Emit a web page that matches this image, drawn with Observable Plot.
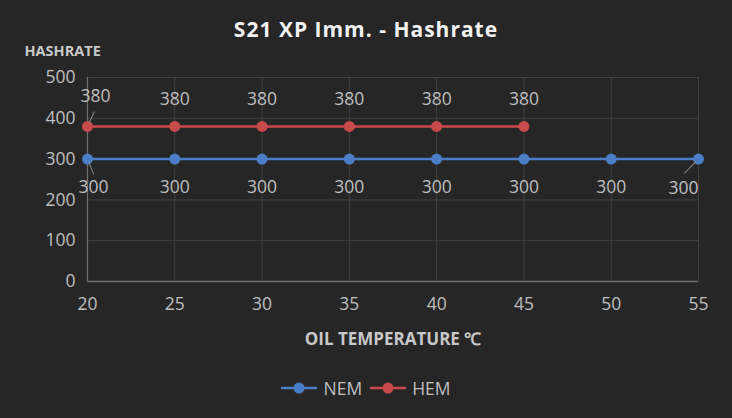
<!DOCTYPE html>
<html>
<head>
<meta charset="utf-8">
<script src="https://cdn.jsdelivr.net/npm/d3@7"></script>
<script src="https://cdn.jsdelivr.net/npm/@observablehq/plot@0.6"></script>
<style>
  html, body { margin: 0; padding: 0; background: #262626; }
  body { width: 732px; height: 418px; overflow: hidden; font-family: "Open Sans", sans-serif; }
  #title { height: 40px; line-height: 40px; padding-top: 9px; box-sizing: border-box; text-align: center; color: #f2f2f2; font-weight: bold; font-size: 21px; letter-spacing: 1px; }
  #legend { display: flex; justify-content: center; align-items: center; gap: 8px; color: #bfbfbf; font-size: 17.5px; margin-top: 16px; }
  .item { display: flex; align-items: center; gap: 6px; }
</style>
</head>
<body>
<div id="title">S21 XP Imm. - Hashrate</div>
<div id="chart"></div>
<div id="legend"></div>
<script>
const temps = [20, 25, 30, 35, 40, 45, 50, 55];
const nemValues = [300, 300, 300, 300, 300, 300, 300, 300];
const hemTemps = [20, 25, 30, 35, 40, 45];
const hemValues = [380, 380, 380, 380, 380, 380];
const yTicks = [0, 100, 200, 300, 400, 500];
const xTicks = [20, 25, 30, 35, 40, 45, 50, 55];
const seriesNames = ["NEM", "HEM"];
const seriesColors = ["#4a7fc8", "#c94a4a"];

const nem = temps.map((t, i) => ({series: "NEM", temp: t, value: nemValues[i]}));
const hem = hemTemps.map((t, i) => ({series: "HEM", temp: t, value: hemValues[i]}));
const nemMid = nem.slice(1, -1);
const nemFirst = nem.slice(0, 1);
const nemLast = nem.slice(-1);
const hemRest = hem.slice(1);
const hemFirst = hem.slice(0, 1);

const grid = "#404040";
const txt = "#bfbfbf";
const leader = {
  draw(context, l) { context.moveTo(0, -4); context.lineTo(0, -l); }
};

const plot = Plot.plot({
  width: 732,
  height: 320,
  marginLeft: 87,
  marginRight: 34,
  marginTop: 37,
  marginBottom: 79,
  style: {background: "transparent", color: txt, fontFamily: "Open Sans, sans-serif", fontSize: "17px", overflow: "visible"},
  x: {domain: [20, 55], ticks: xTicks, label: null},
  y: {domain: [0, 500], ticks: yTicks, label: null},
  marks: [
    Plot.gridY(yTicks, {stroke: grid, strokeOpacity: 1, strokeWidth: 1}),
    Plot.gridX(xTicks, {stroke: grid, strokeOpacity: 1, strokeWidth: 1}),
    Plot.ruleX([20], {stroke: "#6e6e6e", strokeWidth: 1.2}),
    Plot.ruleY([0], {stroke: "#6e6e6e", strokeWidth: 1.5}),
    Plot.axisY(yTicks, {tickSize: 0, tickPadding: 12, fontSize: 17.5, fill: txt, label: null}),
    Plot.axisX(xTicks, {tickSize: 0, tickPadding: 16, fontSize: 17.5, fill: txt, label: null}),
    Plot.line(nem, {x: "temp", y: "value", stroke: seriesColors[0], strokeWidth: 2.5}),
    Plot.line(hem, {x: "temp", y: "value", stroke: seriesColors[1], strokeWidth: 2.5}),
    Plot.dot(nem, {x: "temp", y: "value", fill: seriesColors[0], r: 5.5, stroke: null}),
    Plot.dot(hem, {x: "temp", y: "value", fill: seriesColors[1], r: 5.5, stroke: null}),
    Plot.vector(hemFirst, {x: "temp", y: "value", length: 16, rotate: 25, anchor: "start", shape: leader, stroke: "#8c8c8c", strokeWidth: 1}),
    Plot.vector(nemFirst, {x: "temp", y: "value", length: 16, rotate: 158, anchor: "start", shape: leader, stroke: "#8c8c8c", strokeWidth: 1}),
    Plot.vector(nemLast, {x: "temp", y: "value", length: 20, rotate: 225, anchor: "start", shape: leader, stroke: "#8c8c8c", strokeWidth: 1}),
    Plot.text(nemMid, {x: "temp", y: "value", text: d => String(d.value), dy: 28, fill: txt, fontSize: 17.5}),
    Plot.text(nemFirst, {x: "temp", y: "value", text: d => String(d.value), dy: 28, dx: 6, fill: txt, fontSize: 17.5}),
    Plot.text(nemLast, {x: "temp", y: "value", text: d => String(d.value), dy: 29, dx: -15, fill: txt, fontSize: 17.5}),
    Plot.text(hemRest, {x: "temp", y: "value", text: d => String(d.value), dy: -27, fill: txt, fontSize: 17.5}),
    Plot.text(hemFirst, {x: "temp", y: "value", text: d => String(d.value), dy: -30, dx: 8, fill: txt, fontSize: 17.5}),
    Plot.text(["HASHRATE"], {frameAnchor: "top-left", dx: -63, dy: -26, fill: "#c8c8c8", fontSize: 14.5, fontWeight: "bold", textAnchor: "start", lineAnchor: "middle"}),
    Plot.text(["OIL TEMPERATURE ℃"], {frameAnchor: "bottom", dy: 58, fill: "#c8c8c8", fontSize: 17, fontWeight: "bold", lineAnchor: "middle"})
  ]
});
document.getElementById("chart").appendChild(plot);

const legend = document.getElementById("legend");
seriesNames.forEach((name, i) => {
  const item = document.createElement("div");
  item.className = "item";
  item.innerHTML = `<svg width="36" height="14"><line x1="0" y1="7" x2="36" y2="7" stroke="${seriesColors[i]}" stroke-width="2.5"/><circle cx="18" cy="7" r="5.5" fill="${seriesColors[i]}"/></svg><span>${name}</span>`;
  legend.appendChild(item);
});
</script>
</body>
</html>
